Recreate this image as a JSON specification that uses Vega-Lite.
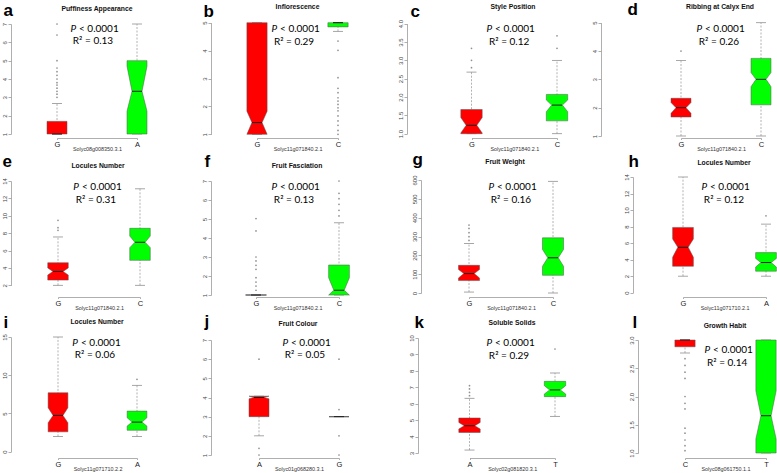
{
"$schema": "https://vega.github.io/schema/vega-lite/v6.json",
"background": "white",
"padding": {"left": 1, "top": 0, "right": 0, "bottom": 0},
"autosize": {"type": "pad"},
"columns": 4,
"align": "none",
"bounds": "flush",
"spacing": {"row": 37, "column": 0},
"config": {
  "view": {"stroke": null},
  "font": "Liberation Sans",
  "axis": {"grid": false, "domainColor": "#9a9a9a", "tickColor": "#9a9a9a", "domainWidth": 0.8, "tickWidth": 0.8, "labelFont": "Liberation Sans", "labelFlush": false, "labelOverlap": false, "labelBound": false},
  "axisY": {"labelAngle": 270, "labelAlign": "center", "labelBaseline": "bottom", "labelFontSize": 6, "labelColor": "#444", "tickSize": 3, "labelPadding": 1, "titleAngle": 0, "titleAlign": "left", "titleBaseline": "alphabetic", "titleFontSize": 17, "titleFontWeight": "bold", "titleColor": "#000", "titleFont": "Liberation Sans"},
  "axisX": {"labelAngle": 0, "tickSize": 1.5, "labelPadding": 0.5, "labelFontSize": 7.5, "labelBaseline": "top", "labelColor": "#222", "titleFontSize": 5.4, "titleFontWeight": "normal", "titleY": 10, "titleBaseline": "middle", "titleColor": "#333"},
  "title": {"fontSize": 6.8, "fontWeight": "bold", "font": "Liberation Sans", "anchor": "middle", "frame": "group", "color": "#111", "offset": 0}
},
"datasets": {
  "boxes": [
    {"p":"a","i":1,"q1":1,"nlo":1,"med":1,"nhi":1.05,"q3":1.69,"wlo":1,"whi":2.66},
    {"p":"a","i":2,"q1":1,"nlo":2.24,"med":3.33,"nhi":4.7,"q3":5,"wlo":1,"whi":7},
    {"p":"b","i":1,"q1":1,"nlo":1,"med":1.42,"nhi":1.83,"q3":5,"wlo":1,"whi":5},
    {"p":"b","i":2,"q1":4.85,"nlo":4.85,"med":5,"nhi":5,"q3":5,"wlo":4.69,"whi":5},
    {"p":"c","i":1,"q1":1,"nlo":1.02,"med":1.23,"nhi":1.44,"q3":1.66,"wlo":1,"whi":2.68},
    {"p":"c","i":2,"q1":1.35,"nlo":1.6,"med":1.78,"nhi":1.92,"q3":2.07,"wlo":1,"whi":3},
    {"p":"d","i":1,"q1":1.67,"nlo":1.8,"med":2,"nhi":2.18,"q3":2.33,"wlo":1,"whi":3.67},
    {"p":"d","i":2,"q1":2.1,"nlo":2.74,"med":3,"nhi":3.24,"q3":3.74,"wlo":1,"whi":5},
    {"p":"e","i":1,"q1":2.6,"nlo":3.18,"med":3.6,"nhi":4,"q3":4.6,"wlo":2,"whi":7.56},
    {"p":"e","i":2,"q1":4.87,"nlo":6.33,"med":6.95,"nhi":7.67,"q3":8.56,"wlo":2,"whi":13.1},
    {"p":"f","i":1,"q1":1,"nlo":1,"med":1,"nhi":1,"q3":1,"wlo":1,"whi":1},
    {"p":"f","i":2,"q1":1,"nlo":1,"med":1.25,"nhi":1.91,"q3":2.58,"wlo":1,"whi":4.8},
    {"p":"g","i":1,"q1":66,"nlo":80,"med":103,"nhi":125,"q3":147,"wlo":5,"whi":263},
    {"p":"g","i":2,"q1":94,"nlo":142,"med":187,"nhi":231,"q3":293,"wlo":0,"whi":593},
    {"p":"h","i":1,"q1":3.2,"nlo":4.3,"med":5.5,"nhi":6.5,"q3":7.9,"wlo":2,"whi":14},
    {"p":"h","i":2,"q1":2.6,"nlo":3.1,"med":3.65,"nhi":4.15,"q3":4.85,"wlo":2,"whi":8.3},
    {"p":"i","i":1,"q1":2.6,"nlo":3.78,"med":4.75,"nhi":5.75,"q3":7.71,"wlo":2,"whi":15},
    {"p":"i","i":2,"q1":2.8,"nlo":3.35,"med":3.87,"nhi":4.44,"q3":5.31,"wlo":2,"whi":8.68},
    {"p":"j","i":1,"q1":3,"nlo":3.93,"med":4,"nhi":4.07,"q3":4.07,"wlo":2,"whi":4.07},
    {"p":"j","i":2,"q1":3,"nlo":3,"med":3,"nhi":3,"q3":3,"wlo":3,"whi":3},
    {"p":"k","i":1,"q1":4.25,"nlo":4.46,"med":4.66,"nhi":4.86,"q3":5.13,"wlo":3.18,"whi":6.33},
    {"p":"k","i":2,"q1":6.43,"nlo":6.59,"med":6.84,"nhi":7.1,"q3":7.36,"wlo":5.23,"whi":7.87},
    {"p":"l","i":1,"q1":2.88,"nlo":2.88,"med":3,"nhi":3,"q3":3,"wlo":2.77,"whi":3},
    {"p":"l","i":2,"q1":1,"nlo":1.25,"med":1.66,"nhi":2.1,"q3":3,"wlo":1,"whi":3}
  ],
  "outliers": [
    {"p":"a","i":1,"v":3.0},{"p":"a","i":1,"v":3.17},{"p":"a","i":1,"v":3.33},{"p":"a","i":1,"v":3.5},{"p":"a","i":1,"v":3.67},{"p":"a","i":1,"v":3.8},{"p":"a","i":1,"v":4.0},{"p":"a","i":1,"v":4.2},{"p":"a","i":1,"v":4.4},{"p":"a","i":1,"v":4.6},{"p":"a","i":1,"v":5.0},{"p":"a","i":1,"v":6.4},{"p":"a","i":1,"v":7.0},
    {"p":"b","i":2,"v":4.34},{"p":"b","i":2,"v":4.01},{"p":"b","i":2,"v":3.03},{"p":"b","i":2,"v":2.65},{"p":"b","i":2,"v":2.49},{"p":"b","i":2,"v":2.31},{"p":"b","i":2,"v":2.19},{"p":"b","i":2,"v":2.07},{"p":"b","i":2,"v":1.95},{"p":"b","i":2,"v":1.84},{"p":"b","i":2,"v":1.66},{"p":"b","i":2,"v":1.48},{"p":"b","i":2,"v":1.32},{"p":"b","i":2,"v":1.14},{"p":"b","i":2,"v":1.0},
    {"p":"c","i":1,"v":2.8},{"p":"c","i":1,"v":3.0},{"p":"c","i":1,"v":3.33},{"p":"c","i":2,"v":3.33},{"p":"c","i":2,"v":3.67},
    {"p":"d","i":1,"v":4.0},
    {"p":"e","i":1,"v":8.33},{"p":"e","i":1,"v":8.63},{"p":"e","i":1,"v":9.47},
    {"p":"f","i":1,"v":1.25},{"p":"f","i":1,"v":1.47},{"p":"f","i":1,"v":1.68},{"p":"f","i":1,"v":1.91},{"p":"f","i":1,"v":2.35},{"p":"f","i":1,"v":2.56},{"p":"f","i":1,"v":2.79},{"p":"f","i":1,"v":3.0},{"p":"f","i":1,"v":4.37},{"p":"f","i":1,"v":5.02},
    {"p":"f","i":2,"v":5.16},{"p":"f","i":2,"v":5.46},{"p":"f","i":2,"v":5.77},{"p":"f","i":2,"v":6.07},{"p":"f","i":2,"v":6.35},{"p":"f","i":2,"v":7.0},
    {"p":"g","i":1,"v":279},{"p":"g","i":1,"v":299},{"p":"g","i":1,"v":320},{"p":"g","i":1,"v":343},{"p":"g","i":1,"v":361},
    {"p":"h","i":2,"v":9.3},
    {"p":"i","i":2,"v":9.46},
    {"p":"j","i":1,"v":6.0},{"p":"j","i":1,"v":1.35},{"p":"j","i":1,"v":1.0},{"p":"j","i":2,"v":6.0},{"p":"j","i":2,"v":3.37},{"p":"j","i":2,"v":2.0},{"p":"j","i":2,"v":1.0},
    {"p":"k","i":1,"v":6.49},{"p":"k","i":1,"v":6.69},{"p":"k","i":1,"v":6.9},{"p":"k","i":1,"v":7.1},{"p":"k","i":2,"v":9.33},
    {"p":"l","i":1,"v":2.67},{"p":"l","i":1,"v":2.55},{"p":"l","i":1,"v":2.43},{"p":"l","i":1,"v":2.32},{"p":"l","i":1,"v":2.0},{"p":"l","i":1,"v":1.88},{"p":"l","i":1,"v":1.78},{"p":"l","i":1,"v":1.44},{"p":"l","i":1,"v":1.35},{"p":"l","i":1,"v":1.23},{"p":"l","i":1,"v":1.13},{"p":"l","i":1,"v":1.04}
  ],
  "stats": [
    {"p":"a","pv":"< 0.0001","r2":"R² = 0.13"},
    {"p":"b","pv":"< 0.0001","r2":"R² = 0.29"},
    {"p":"c","pv":"< 0.0001","r2":"R² = 0.12"},
    {"p":"d","pv":"< 0.0001","r2":"R² = 0.26"},
    {"p":"e","pv":"< 0.0001","r2":"R² = 0.31"},
    {"p":"f","pv":"< 0.0001","r2":"R² = 0.13"},
    {"p":"g","pv":"< 0.0001","r2":"R² = 0.16"},
    {"p":"h","pv":"< 0.0001","r2":"R² = 0.12"},
    {"p":"i","pv":"< 0.0001","r2":"R² = 0.06"},
    {"p":"j","pv":"< 0.0001","r2":"R² = 0.05"},
    {"p":"k","pv":"< 0.0001","r2":"R² = 0.29"},
    {"p":"l","pv":"< 0.0001","r2":"R² = 0.14"}
  ]
},
"concat": [
{
 "width": 200, "height": 119,
 "title": {"text": "Puffiness Appearance", "dx": -14, "dy": 16.2},
 "layer": [
  {"data": {"name": "boxes"}, "transform": [{"filter": "datum.p == 'a'"}], "mark": {"type": "rule", "color": "#a0a0a0", "strokeDash": [2, 1.5], "strokeWidth": 0.8}, "encoding": {"x": {"field": "i", "type": "quantitative"}, "y": {"field": "wlo", "type": "quantitative"}, "y2": {"field": "whi"}}},
  {"data": {"name": "boxes"}, "transform": [{"filter": "datum.p == 'a'"}, {"fold": ["wlo", "whi"], "as": ["k", "v"]}], "mark": {"type": "tick", "orient": "horizontal", "size": 10, "thickness": 0.8, "color": "#909090", "opacity": 1}, "encoding": {"x": {"field": "i", "type": "quantitative"}, "y": {"field": "v", "type": "quantitative"}}},
  {"data": {"name": "outliers"}, "transform": [{"filter": "datum.p == 'a'"}], "mark": {"type": "circle", "size": 3, "color": "#909090", "opacity": 1}, "encoding": {"x": {"field": "i", "type": "quantitative"}, "y": {"field": "v", "type": "quantitative"}}},
  {"data": {"name": "boxes"}, "transform": [{"filter": "datum.p == 'a'"}, {"fold": ["q1", "nlo", "med", "nhi", "q3"], "as": ["k", "v"]}, {"calculate": "datum.i - (datum.k == 'med' ? 0.0625 : 0.125)", "as": "xl"}, {"calculate": "datum.i + (datum.k == 'med' ? 0.0625 : 0.125)", "as": "xr"}], "mark": {"type": "area", "orient": "horizontal", "stroke": "#555555", "strokeWidth": 0.5, "opacity": 1},
   "encoding": {
    "y": {"field": "v", "type": "quantitative", "scale": {"domain": [1, 7], "range": [115, 5], "nice": false, "zero": false}, "axis": {"values": [1, 2, 3, 4, 5, 6, 7], "tickCount": 50, "format": "d", "labelOverlap": false, "title": "a", "titleX": -8, "titleY": -4}},
    "x": {"field": "xl", "type": "quantitative", "stack": null, "scale": {"domain": [1, 2], "range": [46, 126], "nice": false, "zero": false}, "axis": {"values": [1, 2], "tickCount": 10, "labelOverlap": false, "labelExpr": "datum.value == 1 ? 'G' : 'A'", "title": "Solyc08g008350.3.1"}},
    "x2": {"field": "xr"},
    "fill": {"field": "i", "type": "nominal", "scale": {"domain": [1, 2], "range": ["#ff0000", "#00ff00"]}, "legend": null}}},
  {"data": {"name": "boxes"}, "transform": [{"filter": "datum.p == 'a'"}], "mark": {"type": "tick", "orient": "horizontal", "size": 10, "thickness": 1, "color": "#1a1a1a", "opacity": 1}, "encoding": {"x": {"field": "i", "type": "quantitative"}, "y": {"field": "med", "type": "quantitative"}}},
  {"data": {"name": "stats"}, "transform": [{"filter": "datum.p == 'a'"}], "mark": {"type": "text", "font": "Lato", "fontSize": 10, "fontStyle": "italic", "align": "right", "baseline": "middle", "dx": -17}, "encoding": {"x": {"datum": 1.45}, "y": {"datum": 6.74}, "text": {"value": "P"}}},
  {"data": {"name": "stats"}, "transform": [{"filter": "datum.p == 'a'"}], "mark": {"type": "text", "font": "Lato", "fontSize": 10, "align": "left", "baseline": "middle", "dx": -14}, "encoding": {"x": {"datum": 1.45}, "y": {"datum": 6.74}, "text": {"field": "pv"}}},
  {"data": {"name": "stats"}, "transform": [{"filter": "datum.p == 'a'"}], "mark": {"type": "text", "font": "Lato", "fontSize": 10, "align": "center", "baseline": "middle"}, "encoding": {"x": {"datum": 1.45}, "y": {"datum": 6.07}, "text": {"field": "r2"}}}
 ]
},
{
 "width": 196, "height": 119,
 "title": {"text": "Inflorescence", "dx": -11.5, "dy": 13.2},
 "layer": [
  {"data": {"name": "boxes"}, "transform": [{"filter": "datum.p == 'b'"}], "mark": {"type": "rule", "color": "#a0a0a0", "strokeDash": [2, 1.5], "strokeWidth": 0.8}, "encoding": {"x": {"field": "i", "type": "quantitative"}, "y": {"field": "wlo", "type": "quantitative"}, "y2": {"field": "whi"}}},
  {"data": {"name": "boxes"}, "transform": [{"filter": "datum.p == 'b'"}, {"fold": ["wlo", "whi"], "as": ["k", "v"]}], "mark": {"type": "tick", "orient": "horizontal", "size": 10, "thickness": 0.8, "color": "#909090", "opacity": 1}, "encoding": {"x": {"field": "i", "type": "quantitative"}, "y": {"field": "v", "type": "quantitative"}}},
  {"data": {"name": "outliers"}, "transform": [{"filter": "datum.p == 'b'"}], "mark": {"type": "circle", "size": 3, "color": "#909090", "opacity": 1}, "encoding": {"x": {"field": "i", "type": "quantitative"}, "y": {"field": "v", "type": "quantitative"}}},
  {"data": {"name": "boxes"}, "transform": [{"filter": "datum.p == 'b'"}, {"fold": ["q1", "nlo", "med", "nhi", "q3"], "as": ["k", "v"]}, {"calculate": "datum.i - (datum.k == 'med' ? 0.0625 : 0.125)", "as": "xl"}, {"calculate": "datum.i + (datum.k == 'med' ? 0.0625 : 0.125)", "as": "xr"}], "mark": {"type": "area", "orient": "horizontal", "stroke": "#555555", "strokeWidth": 0.5, "opacity": 1},
   "encoding": {
    "y": {"field": "v", "type": "quantitative", "scale": {"domain": [1, 5], "range": [115.3, 3.7], "nice": false, "zero": false}, "axis": {"values": [1, 2, 3, 4, 5], "tickCount": 50, "format": "d", "labelOverlap": false, "title": "b", "titleX": -8, "titleY": -3}},
    "x": {"field": "xl", "type": "quantitative", "stack": null, "scale": {"domain": [1, 2], "range": [46, 127], "nice": false, "zero": false}, "axis": {"values": [1, 2], "tickCount": 10, "labelOverlap": false, "labelExpr": "datum.value == 1 ? 'G' : 'C'", "title": "Solyc11g071840.2.1"}},
    "x2": {"field": "xr"},
    "fill": {"field": "i", "type": "nominal", "scale": {"domain": [1, 2], "range": ["#ff0000", "#00ff00"]}, "legend": null}}},
  {"data": {"name": "boxes"}, "transform": [{"filter": "datum.p == 'b'"}], "mark": {"type": "tick", "orient": "horizontal", "size": 10, "thickness": 1, "color": "#1a1a1a", "opacity": 1}, "encoding": {"x": {"field": "i", "type": "quantitative"}, "y": {"field": "med", "type": "quantitative"}}},
  {"data": {"name": "stats"}, "transform": [{"filter": "datum.p == 'b'"}], "mark": {"type": "text", "font": "Lato", "fontSize": 10, "fontStyle": "italic", "align": "right", "baseline": "middle", "dx": -17}, "encoding": {"x": {"datum": 1.457}, "y": {"datum": 4.76}, "text": {"value": "P"}}},
  {"data": {"name": "stats"}, "transform": [{"filter": "datum.p == 'b'"}], "mark": {"type": "text", "font": "Lato", "fontSize": 10, "align": "left", "baseline": "middle", "dx": -14}, "encoding": {"x": {"datum": 1.457}, "y": {"datum": 4.76}, "text": {"field": "pv"}}},
  {"data": {"name": "stats"}, "transform": [{"filter": "datum.p == 'b'"}], "mark": {"type": "text", "font": "Lato", "fontSize": 10, "align": "center", "baseline": "middle"}, "encoding": {"x": {"datum": 1.457}, "y": {"datum": 4.32}, "text": {"field": "r2"}}}
 ]
},
{
 "width": 194, "height": 119,
 "title": {"text": "Style Position", "dx": 9, "dy": 13.2},
 "layer": [
  {"data": {"name": "boxes"}, "transform": [{"filter": "datum.p == 'c'"}], "mark": {"type": "rule", "color": "#a0a0a0", "strokeDash": [2, 1.5], "strokeWidth": 0.8}, "encoding": {"x": {"field": "i", "type": "quantitative"}, "y": {"field": "wlo", "type": "quantitative"}, "y2": {"field": "whi"}}},
  {"data": {"name": "boxes"}, "transform": [{"filter": "datum.p == 'c'"}, {"fold": ["wlo", "whi"], "as": ["k", "v"]}], "mark": {"type": "tick", "orient": "horizontal", "size": 10, "thickness": 0.8, "color": "#909090", "opacity": 1}, "encoding": {"x": {"field": "i", "type": "quantitative"}, "y": {"field": "v", "type": "quantitative"}}},
  {"data": {"name": "outliers"}, "transform": [{"filter": "datum.p == 'c'"}], "mark": {"type": "circle", "size": 3, "color": "#909090", "opacity": 1}, "encoding": {"x": {"field": "i", "type": "quantitative"}, "y": {"field": "v", "type": "quantitative"}}},
  {"data": {"name": "boxes"}, "transform": [{"filter": "datum.p == 'c'"}, {"fold": ["q1", "nlo", "med", "nhi", "q3"], "as": ["k", "v"]}, {"calculate": "datum.i - (datum.k == 'med' ? 0.0625 : 0.125)", "as": "xl"}, {"calculate": "datum.i + (datum.k == 'med' ? 0.0625 : 0.125)", "as": "xr"}], "mark": {"type": "area", "orient": "horizontal", "stroke": "#555555", "strokeWidth": 0.5, "opacity": 1},
   "encoding": {
    "y": {"field": "v", "type": "quantitative", "scale": {"domain": [1, 4], "range": [114.7, 4.7], "nice": false, "zero": false}, "axis": {"values": [1, 1.5, 2, 2.5, 3, 3.5, 4], "tickCount": 50, "format": ".1f", "labelOverlap": false, "title": "c", "titleX": 3, "titleY": -3}},
    "x": {"field": "xl", "type": "quantitative", "stack": null, "scale": {"domain": [1, 2], "range": [64.5, 150], "nice": false, "zero": false}, "axis": {"values": [1, 2], "tickCount": 10, "labelOverlap": false, "labelExpr": "datum.value == 1 ? 'G' : 'C'", "title": "Solyc11g071840.2.1"}},
    "x2": {"field": "xr"},
    "fill": {"field": "i", "type": "nominal", "scale": {"domain": [1, 2], "range": ["#ff0000", "#00ff00"]}, "legend": null}}},
  {"data": {"name": "boxes"}, "transform": [{"filter": "datum.p == 'c'"}], "mark": {"type": "tick", "orient": "horizontal", "size": 10, "thickness": 1, "color": "#1a1a1a", "opacity": 1}, "encoding": {"x": {"field": "i", "type": "quantitative"}, "y": {"field": "med", "type": "quantitative"}}},
  {"data": {"name": "stats"}, "transform": [{"filter": "datum.p == 'c'"}], "mark": {"type": "text", "font": "Lato", "fontSize": 10, "fontStyle": "italic", "align": "right", "baseline": "middle", "dx": -17}, "encoding": {"x": {"datum": 1.44}, "y": {"datum": 3.85}, "text": {"value": "P"}}},
  {"data": {"name": "stats"}, "transform": [{"filter": "datum.p == 'c'"}], "mark": {"type": "text", "font": "Lato", "fontSize": 10, "align": "left", "baseline": "middle", "dx": -14}, "encoding": {"x": {"datum": 1.44}, "y": {"datum": 3.85}, "text": {"field": "pv"}}},
  {"data": {"name": "stats"}, "transform": [{"filter": "datum.p == 'c'"}], "mark": {"type": "text", "font": "Lato", "fontSize": 10, "align": "center", "baseline": "middle"}, "encoding": {"x": {"datum": 1.44}, "y": {"datum": 3.51}, "text": {"field": "r2"}}}
 ]
},
{
 "width": 176, "height": 119,
 "title": {"text": "Ribbing at Calyx End", "dx": 31, "dy": 14.9},
 "layer": [
  {"data": {"name": "boxes"}, "transform": [{"filter": "datum.p == 'd'"}], "mark": {"type": "rule", "color": "#a0a0a0", "strokeDash": [2, 1.5], "strokeWidth": 0.8}, "encoding": {"x": {"field": "i", "type": "quantitative"}, "y": {"field": "wlo", "type": "quantitative"}, "y2": {"field": "whi"}}},
  {"data": {"name": "boxes"}, "transform": [{"filter": "datum.p == 'd'"}, {"fold": ["wlo", "whi"], "as": ["k", "v"]}], "mark": {"type": "tick", "orient": "horizontal", "size": 10, "thickness": 0.8, "color": "#909090", "opacity": 1}, "encoding": {"x": {"field": "i", "type": "quantitative"}, "y": {"field": "v", "type": "quantitative"}}},
  {"data": {"name": "outliers"}, "transform": [{"filter": "datum.p == 'd'"}], "mark": {"type": "circle", "size": 3, "color": "#909090", "opacity": 1}, "encoding": {"x": {"field": "i", "type": "quantitative"}, "y": {"field": "v", "type": "quantitative"}}},
  {"data": {"name": "boxes"}, "transform": [{"filter": "datum.p == 'd'"}, {"fold": ["q1", "nlo", "med", "nhi", "q3"], "as": ["k", "v"]}, {"calculate": "datum.i - (datum.k == 'med' ? 0.0625 : 0.125)", "as": "xl"}, {"calculate": "datum.i + (datum.k == 'med' ? 0.0625 : 0.125)", "as": "xr"}], "mark": {"type": "area", "orient": "horizontal", "stroke": "#555555", "strokeWidth": 0.5, "opacity": 1},
   "encoding": {
    "y": {"field": "v", "type": "quantitative", "scale": {"domain": [1, 5], "range": [117, 3.7], "nice": false, "zero": false}, "axis": {"values": [1, 2, 3, 4, 5], "tickCount": 50, "format": "d", "labelOverlap": false, "title": "d", "titleX": 26, "titleY": -4.7}},
    "x": {"field": "xl", "type": "quantitative", "stack": null, "scale": {"domain": [1, 2], "range": [80, 160], "nice": false, "zero": false}, "axis": {"values": [1, 2], "tickCount": 10, "labelOverlap": false, "labelExpr": "datum.value == 1 ? 'G' : 'C'", "title": "Solyc11g071840.2.1"}},
    "x2": {"field": "xr"},
    "fill": {"field": "i", "type": "nominal", "scale": {"domain": [1, 2], "range": ["#ff0000", "#00ff00"]}, "legend": null}}},
  {"data": {"name": "boxes"}, "transform": [{"filter": "datum.p == 'd'"}], "mark": {"type": "tick", "orient": "horizontal", "size": 10, "thickness": 1, "color": "#1a1a1a", "opacity": 1}, "encoding": {"x": {"field": "i", "type": "quantitative"}, "y": {"field": "med", "type": "quantitative"}}},
  {"data": {"name": "stats"}, "transform": [{"filter": "datum.p == 'd'"}], "mark": {"type": "text", "font": "Lato", "fontSize": 10, "fontStyle": "italic", "align": "right", "baseline": "middle", "dx": -17}, "encoding": {"x": {"datum": 1.475}, "y": {"datum": 4.77}, "text": {"value": "P"}}},
  {"data": {"name": "stats"}, "transform": [{"filter": "datum.p == 'd'"}], "mark": {"type": "text", "font": "Lato", "fontSize": 10, "align": "left", "baseline": "middle", "dx": -14}, "encoding": {"x": {"datum": 1.475}, "y": {"datum": 4.77}, "text": {"field": "pv"}}},
  {"data": {"name": "stats"}, "transform": [{"filter": "datum.p == 'd'"}], "mark": {"type": "text", "font": "Lato", "fontSize": 10, "align": "center", "baseline": "middle"}, "encoding": {"x": {"datum": 1.475}, "y": {"datum": 4.33}, "text": {"field": "r2"}}}
 ]
},
{
 "width": 200, "height": 122,
 "title": {"text": "Locules Number", "dx": -13, "dy": 21.5},
 "layer": [
  {"data": {"name": "boxes"}, "transform": [{"filter": "datum.p == 'e'"}], "mark": {"type": "rule", "color": "#a0a0a0", "strokeDash": [2, 1.5], "strokeWidth": 0.8}, "encoding": {"x": {"field": "i", "type": "quantitative"}, "y": {"field": "wlo", "type": "quantitative"}, "y2": {"field": "whi"}}},
  {"data": {"name": "boxes"}, "transform": [{"filter": "datum.p == 'e'"}, {"fold": ["wlo", "whi"], "as": ["k", "v"]}], "mark": {"type": "tick", "orient": "horizontal", "size": 10, "thickness": 0.8, "color": "#909090", "opacity": 1}, "encoding": {"x": {"field": "i", "type": "quantitative"}, "y": {"field": "v", "type": "quantitative"}}},
  {"data": {"name": "outliers"}, "transform": [{"filter": "datum.p == 'e'"}], "mark": {"type": "circle", "size": 3, "color": "#909090", "opacity": 1}, "encoding": {"x": {"field": "i", "type": "quantitative"}, "y": {"field": "v", "type": "quantitative"}}},
  {"data": {"name": "boxes"}, "transform": [{"filter": "datum.p == 'e'"}, {"fold": ["q1", "nlo", "med", "nhi", "q3"], "as": ["k", "v"]}, {"calculate": "datum.i - (datum.k == 'med' ? 0.0625 : 0.125)", "as": "xl"}, {"calculate": "datum.i + (datum.k == 'med' ? 0.0625 : 0.125)", "as": "xr"}], "mark": {"type": "area", "orient": "horizontal", "stroke": "#555555", "strokeWidth": 0.5, "opacity": 1},
   "encoding": {
    "y": {"field": "v", "type": "quantitative", "scale": {"domain": [2, 14], "range": [110.3, 6], "nice": false, "zero": false}, "axis": {"values": [2, 4, 6, 8, 10, 12, 14], "tickCount": 50, "format": "d", "labelOverlap": false, "title": "e", "titleX": -9, "titleY": -9}},
    "x": {"field": "xl", "type": "quantitative", "stack": null, "scale": {"domain": [1, 2], "range": [47, 129], "nice": false, "zero": false}, "axis": {"values": [1, 2], "tickCount": 10, "labelOverlap": false, "labelExpr": "datum.value == 1 ? 'G' : 'C'", "title": "Solyc11g071840.2.1"}},
    "x2": {"field": "xr"},
    "fill": {"field": "i", "type": "nominal", "scale": {"domain": [1, 2], "range": ["#ff0000", "#00ff00"]}, "legend": null}}},
  {"data": {"name": "boxes"}, "transform": [{"filter": "datum.p == 'e'"}], "mark": {"type": "tick", "orient": "horizontal", "size": 10, "thickness": 1, "color": "#1a1a1a", "opacity": 1}, "encoding": {"x": {"field": "i", "type": "quantitative"}, "y": {"field": "med", "type": "quantitative"}}},
  {"data": {"name": "stats"}, "transform": [{"filter": "datum.p == 'e'"}], "mark": {"type": "text", "font": "Lato", "fontSize": 10, "fontStyle": "italic", "align": "right", "baseline": "middle", "dx": -17}, "encoding": {"x": {"datum": 1.463}, "y": {"datum": 13.31}, "text": {"value": "P"}}},
  {"data": {"name": "stats"}, "transform": [{"filter": "datum.p == 'e'"}], "mark": {"type": "text", "font": "Lato", "fontSize": 10, "align": "left", "baseline": "middle", "dx": -14}, "encoding": {"x": {"datum": 1.463}, "y": {"datum": 13.31}, "text": {"field": "pv"}}},
  {"data": {"name": "stats"}, "transform": [{"filter": "datum.p == 'e'"}], "mark": {"type": "text", "font": "Lato", "fontSize": 10, "align": "center", "baseline": "middle"}, "encoding": {"x": {"datum": 1.463}, "y": {"datum": 11.81}, "text": {"field": "r2"}}}
 ]
},
{
 "width": 196, "height": 122,
 "title": {"text": "Fruit Fasciation", "dx": -12, "dy": 21.5},
 "layer": [
  {"data": {"name": "boxes"}, "transform": [{"filter": "datum.p == 'f'"}], "mark": {"type": "rule", "color": "#a0a0a0", "strokeDash": [2, 1.5], "strokeWidth": 0.8}, "encoding": {"x": {"field": "i", "type": "quantitative"}, "y": {"field": "wlo", "type": "quantitative"}, "y2": {"field": "whi"}}},
  {"data": {"name": "boxes"}, "transform": [{"filter": "datum.p == 'f'"}, {"fold": ["wlo", "whi"], "as": ["k", "v"]}], "mark": {"type": "tick", "orient": "horizontal", "size": 10, "thickness": 0.8, "color": "#909090", "opacity": 1}, "encoding": {"x": {"field": "i", "type": "quantitative"}, "y": {"field": "v", "type": "quantitative"}}},
  {"data": {"name": "outliers"}, "transform": [{"filter": "datum.p == 'f'"}], "mark": {"type": "circle", "size": 3, "color": "#909090", "opacity": 1}, "encoding": {"x": {"field": "i", "type": "quantitative"}, "y": {"field": "v", "type": "quantitative"}}},
  {"data": {"name": "boxes"}, "transform": [{"filter": "datum.p == 'f'"}, {"fold": ["q1", "nlo", "med", "nhi", "q3"], "as": ["k", "v"]}, {"calculate": "datum.i - (datum.k == 'med' ? 0.0625 : 0.125)", "as": "xl"}, {"calculate": "datum.i + (datum.k == 'med' ? 0.0625 : 0.125)", "as": "xr"}], "mark": {"type": "area", "orient": "horizontal", "stroke": "#555555", "strokeWidth": 0.5, "opacity": 1},
   "encoding": {
    "y": {"field": "v", "type": "quantitative", "scale": {"domain": [1, 7], "range": [120, 6], "nice": false, "zero": false}, "axis": {"values": [1, 2, 3, 4, 5, 6, 7], "tickCount": 50, "format": "d", "labelOverlap": false, "title": "f", "titleX": -7, "titleY": -9}},
    "x": {"field": "xl", "type": "quantitative", "stack": null, "scale": {"domain": [1, 2], "range": [45, 128], "nice": false, "zero": false}, "axis": {"values": [1, 2], "tickCount": 10, "labelOverlap": false, "labelExpr": "datum.value == 1 ? 'G' : 'C'", "title": "Solyc11g071840.2.1"}},
    "x2": {"field": "xr"},
    "fill": {"field": "i", "type": "nominal", "scale": {"domain": [1, 2], "range": ["#ff0000", "#00ff00"]}, "legend": null}}},
  {"data": {"name": "boxes"}, "transform": [{"filter": "datum.p == 'f'"}], "mark": {"type": "tick", "orient": "horizontal", "size": 10, "thickness": 1, "color": "#1a1a1a", "opacity": 1}, "encoding": {"x": {"field": "i", "type": "quantitative"}, "y": {"field": "med", "type": "quantitative"}}},
  {"data": {"name": "stats"}, "transform": [{"filter": "datum.p == 'f'"}], "mark": {"type": "text", "font": "Lato", "fontSize": 10, "fontStyle": "italic", "align": "right", "baseline": "middle", "dx": -17}, "encoding": {"x": {"datum": 1.458}, "y": {"datum": 6.68}, "text": {"value": "P"}}},
  {"data": {"name": "stats"}, "transform": [{"filter": "datum.p == 'f'"}], "mark": {"type": "text", "font": "Lato", "fontSize": 10, "align": "left", "baseline": "middle", "dx": -14}, "encoding": {"x": {"datum": 1.458}, "y": {"datum": 6.68}, "text": {"field": "pv"}}},
  {"data": {"name": "stats"}, "transform": [{"filter": "datum.p == 'f'"}], "mark": {"type": "text", "font": "Lato", "fontSize": 10, "align": "center", "baseline": "middle"}, "encoding": {"x": {"datum": 1.458}, "y": {"datum": 6.0}, "text": {"field": "r2"}}}
 ]
},
{
 "width": 194, "height": 122,
 "title": {"text": "Fruit Weight", "dx": 1, "dy": 20.2},
 "layer": [
  {"data": {"name": "boxes"}, "transform": [{"filter": "datum.p == 'g'"}], "mark": {"type": "rule", "color": "#a0a0a0", "strokeDash": [2, 1.5], "strokeWidth": 0.8}, "encoding": {"x": {"field": "i", "type": "quantitative"}, "y": {"field": "wlo", "type": "quantitative"}, "y2": {"field": "whi"}}},
  {"data": {"name": "boxes"}, "transform": [{"filter": "datum.p == 'g'"}, {"fold": ["wlo", "whi"], "as": ["k", "v"]}], "mark": {"type": "tick", "orient": "horizontal", "size": 10, "thickness": 0.8, "color": "#909090", "opacity": 1}, "encoding": {"x": {"field": "i", "type": "quantitative"}, "y": {"field": "v", "type": "quantitative"}}},
  {"data": {"name": "outliers"}, "transform": [{"filter": "datum.p == 'g'"}], "mark": {"type": "circle", "size": 3, "color": "#909090", "opacity": 1}, "encoding": {"x": {"field": "i", "type": "quantitative"}, "y": {"field": "v", "type": "quantitative"}}},
  {"data": {"name": "boxes"}, "transform": [{"filter": "datum.p == 'g'"}, {"fold": ["q1", "nlo", "med", "nhi", "q3"], "as": ["k", "v"]}, {"calculate": "datum.i - (datum.k == 'med' ? 0.0625 : 0.125)", "as": "xl"}, {"calculate": "datum.i + (datum.k == 'med' ? 0.0625 : 0.125)", "as": "xr"}], "mark": {"type": "area", "orient": "horizontal", "stroke": "#555555", "strokeWidth": 0.5, "opacity": 1},
   "encoding": {
    "y": {"field": "v", "type": "quantitative", "scale": {"domain": [0, 600], "range": [118, 5], "nice": false, "zero": false}, "axis": {"values": [0, 100, 200, 300, 400, 500, 600], "tickCount": 50, "format": "d", "labelOverlap": false, "offset": -14, "title": "g", "titleX": -9, "titleY": -11}},
    "x": {"field": "xl", "type": "quantitative", "stack": null, "scale": {"domain": [1, 2], "range": [62, 146], "nice": false, "zero": false}, "axis": {"values": [1, 2], "tickCount": 10, "labelOverlap": false, "labelExpr": "datum.value == 1 ? 'G' : 'C'", "title": "Solyc11g071840.2.1"}},
    "x2": {"field": "xr"},
    "fill": {"field": "i", "type": "nominal", "scale": {"domain": [1, 2], "range": ["#ff0000", "#00ff00"]}, "legend": null}}},
  {"data": {"name": "boxes"}, "transform": [{"filter": "datum.p == 'g'"}], "mark": {"type": "tick", "orient": "horizontal", "size": 10, "thickness": 1, "color": "#1a1a1a", "opacity": 1}, "encoding": {"x": {"field": "i", "type": "quantitative"}, "y": {"field": "med", "type": "quantitative"}}},
  {"data": {"name": "stats"}, "transform": [{"filter": "datum.p == 'g'"}], "mark": {"type": "text", "font": "Lato", "fontSize": 10, "fontStyle": "italic", "align": "right", "baseline": "middle", "dx": -17}, "encoding": {"x": {"datum": 1.5}, "y": {"datum": 564}, "text": {"value": "P"}}},
  {"data": {"name": "stats"}, "transform": [{"filter": "datum.p == 'g'"}], "mark": {"type": "text", "font": "Lato", "fontSize": 10, "align": "left", "baseline": "middle", "dx": -14}, "encoding": {"x": {"datum": 1.5}, "y": {"datum": 564}, "text": {"field": "pv"}}},
  {"data": {"name": "stats"}, "transform": [{"filter": "datum.p == 'g'"}], "mark": {"type": "text", "font": "Lato", "fontSize": 10, "align": "center", "baseline": "middle"}, "encoding": {"x": {"datum": 1.5}, "y": {"datum": 493}, "text": {"field": "r2"}}}
 ]
},
{
 "width": 176, "height": 122,
 "title": {"text": "Locules Number", "dx": 35, "dy": 19.2},
 "layer": [
  {"data": {"name": "boxes"}, "transform": [{"filter": "datum.p == 'h'"}], "mark": {"type": "rule", "color": "#a0a0a0", "strokeDash": [2, 1.5], "strokeWidth": 0.8}, "encoding": {"x": {"field": "i", "type": "quantitative"}, "y": {"field": "wlo", "type": "quantitative"}, "y2": {"field": "whi"}}},
  {"data": {"name": "boxes"}, "transform": [{"filter": "datum.p == 'h'"}, {"fold": ["wlo", "whi"], "as": ["k", "v"]}], "mark": {"type": "tick", "orient": "horizontal", "size": 10, "thickness": 0.8, "color": "#909090", "opacity": 1}, "encoding": {"x": {"field": "i", "type": "quantitative"}, "y": {"field": "v", "type": "quantitative"}}},
  {"data": {"name": "outliers"}, "transform": [{"filter": "datum.p == 'h'"}], "mark": {"type": "circle", "size": 3, "color": "#909090", "opacity": 1}, "encoding": {"x": {"field": "i", "type": "quantitative"}, "y": {"field": "v", "type": "quantitative"}}},
  {"data": {"name": "boxes"}, "transform": [{"filter": "datum.p == 'h'"}, {"fold": ["q1", "nlo", "med", "nhi", "q3"], "as": ["k", "v"]}, {"calculate": "datum.i - (datum.k == 'med' ? 0.0625 : 0.125)", "as": "xl"}, {"calculate": "datum.i + (datum.k == 'med' ? 0.0625 : 0.125)", "as": "xr"}], "mark": {"type": "area", "orient": "horizontal", "stroke": "#555555", "strokeWidth": 0.5, "opacity": 1},
   "encoding": {
    "y": {"field": "v", "type": "quantitative", "scale": {"domain": [0, 14], "range": [117.7, 2], "nice": false, "zero": false}, "axis": {"values": [0, 2, 4, 6, 8, 10, 12, 14], "tickCount": 50, "format": "d", "labelOverlap": false, "offset": -32, "title": "h", "titleX": -5, "titleY": -9}},
    "x": {"field": "xl", "type": "quantitative", "stack": null, "scale": {"domain": [1, 2], "range": [82, 165], "nice": false, "zero": false}, "axis": {"values": [1, 2], "tickCount": 10, "labelOverlap": false, "labelExpr": "datum.value == 1 ? 'G' : 'A'", "title": "Solyc11g071710.2.1"}},
    "x2": {"field": "xr"},
    "fill": {"field": "i", "type": "nominal", "scale": {"domain": [1, 2], "range": ["#ff0000", "#00ff00"]}, "legend": null}}},
  {"data": {"name": "boxes"}, "transform": [{"filter": "datum.p == 'h'"}], "mark": {"type": "tick", "orient": "horizontal", "size": 10, "thickness": 1, "color": "#1a1a1a", "opacity": 1}, "encoding": {"x": {"field": "i", "type": "quantitative"}, "y": {"field": "med", "type": "quantitative"}}},
  {"data": {"name": "stats"}, "transform": [{"filter": "datum.p == 'h'"}], "mark": {"type": "text", "font": "Lato", "fontSize": 10, "fontStyle": "italic", "align": "right", "baseline": "middle", "dx": -17}, "encoding": {"x": {"datum": 1.494}, "y": {"datum": 12.79}, "text": {"value": "P"}}},
  {"data": {"name": "stats"}, "transform": [{"filter": "datum.p == 'h'"}], "mark": {"type": "text", "font": "Lato", "fontSize": 10, "align": "left", "baseline": "middle", "dx": -14}, "encoding": {"x": {"datum": 1.494}, "y": {"datum": 12.79}, "text": {"field": "pv"}}},
  {"data": {"name": "stats"}, "transform": [{"filter": "datum.p == 'h'"}], "mark": {"type": "text", "font": "Lato", "fontSize": 10, "align": "center", "baseline": "middle"}, "encoding": {"x": {"datum": 1.494}, "y": {"datum": 11.22}, "text": {"field": "r2"}}}
 ]
},
{
 "width": 200, "height": 124,
 "title": {"text": "Locules Number", "dx": -14, "dy": 16.5},
 "layer": [
  {"data": {"name": "boxes"}, "transform": [{"filter": "datum.p == 'i'"}], "mark": {"type": "rule", "color": "#a0a0a0", "strokeDash": [2, 1.5], "strokeWidth": 0.8}, "encoding": {"x": {"field": "i", "type": "quantitative"}, "y": {"field": "wlo", "type": "quantitative"}, "y2": {"field": "whi"}}},
  {"data": {"name": "boxes"}, "transform": [{"filter": "datum.p == 'i'"}, {"fold": ["wlo", "whi"], "as": ["k", "v"]}], "mark": {"type": "tick", "orient": "horizontal", "size": 10, "thickness": 0.8, "color": "#909090", "opacity": 1}, "encoding": {"x": {"field": "i", "type": "quantitative"}, "y": {"field": "v", "type": "quantitative"}}},
  {"data": {"name": "outliers"}, "transform": [{"filter": "datum.p == 'i'"}], "mark": {"type": "circle", "size": 3, "color": "#909090", "opacity": 1}, "encoding": {"x": {"field": "i", "type": "quantitative"}, "y": {"field": "v", "type": "quantitative"}}},
  {"data": {"name": "boxes"}, "transform": [{"filter": "datum.p == 'i'"}, {"fold": ["q1", "nlo", "med", "nhi", "q3"], "as": ["k", "v"]}, {"calculate": "datum.i - (datum.k == 'med' ? 0.0625 : 0.125)", "as": "xl"}, {"calculate": "datum.i + (datum.k == 'med' ? 0.0625 : 0.125)", "as": "xr"}], "mark": {"type": "area", "orient": "horizontal", "stroke": "#555555", "strokeWidth": 0.5, "opacity": 1},
   "encoding": {
    "y": {"field": "v", "type": "quantitative", "scale": {"domain": [0, 15], "range": [117.7, 3], "nice": false, "zero": false}, "axis": {"values": [0, 5, 10, 15], "tickCount": 50, "format": "d", "labelOverlap": false, "title": "i", "titleX": -8, "titleY": -7}},
    "x": {"field": "xl", "type": "quantitative", "stack": null, "scale": {"domain": [1, 2], "range": [47, 126], "nice": false, "zero": false}, "axis": {"values": [1, 2], "tickCount": 10, "labelOverlap": false, "labelExpr": "datum.value == 1 ? 'G' : 'A'", "title": "Solyc11g071710.2.2"}},
    "x2": {"field": "xr"},
    "fill": {"field": "i", "type": "nominal", "scale": {"domain": [1, 2], "range": ["#ff0000", "#00ff00"]}, "legend": null}}},
  {"data": {"name": "boxes"}, "transform": [{"filter": "datum.p == 'i'"}], "mark": {"type": "tick", "orient": "horizontal", "size": 10, "thickness": 1, "color": "#1a1a1a", "opacity": 1}, "encoding": {"x": {"field": "i", "type": "quantitative"}, "y": {"field": "med", "type": "quantitative"}}},
  {"data": {"name": "stats"}, "transform": [{"filter": "datum.p == 'i'"}], "mark": {"type": "text", "font": "Lato", "fontSize": 10, "fontStyle": "italic", "align": "right", "baseline": "middle", "dx": -17}, "encoding": {"x": {"datum": 1.468}, "y": {"datum": 14.18}, "text": {"value": "P"}}},
  {"data": {"name": "stats"}, "transform": [{"filter": "datum.p == 'i'"}], "mark": {"type": "text", "font": "Lato", "fontSize": 10, "align": "left", "baseline": "middle", "dx": -14}, "encoding": {"x": {"datum": 1.468}, "y": {"datum": 14.18}, "text": {"field": "pv"}}},
  {"data": {"name": "stats"}, "transform": [{"filter": "datum.p == 'i'"}], "mark": {"type": "text", "font": "Lato", "fontSize": 10, "align": "center", "baseline": "middle"}, "encoding": {"x": {"datum": 1.468}, "y": {"datum": 12.6}, "text": {"field": "r2"}}}
 ]
},
{
 "width": 196, "height": 124,
 "title": {"text": "Fruit Colour", "dx": -11, "dy": 19.8},
 "layer": [
  {"data": {"name": "boxes"}, "transform": [{"filter": "datum.p == 'j'"}], "mark": {"type": "rule", "color": "#a0a0a0", "strokeDash": [2, 1.5], "strokeWidth": 0.8}, "encoding": {"x": {"field": "i", "type": "quantitative"}, "y": {"field": "wlo", "type": "quantitative"}, "y2": {"field": "whi"}}},
  {"data": {"name": "boxes"}, "transform": [{"filter": "datum.p == 'j'"}, {"fold": ["wlo", "whi"], "as": ["k", "v"]}], "mark": {"type": "tick", "orient": "horizontal", "size": 10, "thickness": 0.8, "color": "#909090", "opacity": 1}, "encoding": {"x": {"field": "i", "type": "quantitative"}, "y": {"field": "v", "type": "quantitative"}}},
  {"data": {"name": "outliers"}, "transform": [{"filter": "datum.p == 'j'"}], "mark": {"type": "circle", "size": 3, "color": "#909090", "opacity": 1}, "encoding": {"x": {"field": "i", "type": "quantitative"}, "y": {"field": "v", "type": "quantitative"}}},
  {"data": {"name": "boxes"}, "transform": [{"filter": "datum.p == 'j'"}, {"fold": ["q1", "nlo", "med", "nhi", "q3"], "as": ["k", "v"]}, {"calculate": "datum.i - (datum.k == 'med' ? 0.0625 : 0.125)", "as": "xl"}, {"calculate": "datum.i + (datum.k == 'med' ? 0.0625 : 0.125)", "as": "xr"}], "mark": {"type": "area", "orient": "horizontal", "stroke": "#555555", "strokeWidth": 0.5, "opacity": 1},
   "encoding": {
    "y": {"field": "v", "type": "quantitative", "scale": {"domain": [1, 7], "range": [121, 6], "nice": false, "zero": false}, "axis": {"values": [1, 2, 3, 4, 5, 6, 7], "tickCount": 50, "format": "d", "labelOverlap": false, "title": "j", "titleX": -7, "titleY": -8}},
    "x": {"field": "xl", "type": "quantitative", "stack": null, "scale": {"domain": [1, 2], "range": [48, 128], "nice": false, "zero": false}, "axis": {"values": [1, 2], "tickCount": 10, "labelOverlap": false, "labelExpr": "datum.value == 1 ? 'A' : 'G'", "title": "Solyc01g068280.3.1"}},
    "x2": {"field": "xr"},
    "fill": {"field": "i", "type": "nominal", "scale": {"domain": [1, 2], "range": ["#ff0000", "#00ff00"]}, "legend": null}}},
  {"data": {"name": "boxes"}, "transform": [{"filter": "datum.p == 'j'"}], "mark": {"type": "tick", "orient": "horizontal", "size": 10, "thickness": 1, "color": "#1a1a1a", "opacity": 1}, "encoding": {"x": {"field": "i", "type": "quantitative"}, "y": {"field": "med", "type": "quantitative"}}},
  {"data": {"name": "stats"}, "transform": [{"filter": "datum.p == 'j'"}], "mark": {"type": "text", "font": "Lato", "fontSize": 10, "fontStyle": "italic", "align": "right", "baseline": "middle", "dx": -17}, "encoding": {"x": {"datum": 1.575}, "y": {"datum": 6.84}, "text": {"value": "P"}}},
  {"data": {"name": "stats"}, "transform": [{"filter": "datum.p == 'j'"}], "mark": {"type": "text", "font": "Lato", "fontSize": 10, "align": "left", "baseline": "middle", "dx": -14}, "encoding": {"x": {"datum": 1.575}, "y": {"datum": 6.84}, "text": {"field": "pv"}}},
  {"data": {"name": "stats"}, "transform": [{"filter": "datum.p == 'j'"}], "mark": {"type": "text", "font": "Lato", "fontSize": 10, "align": "center", "baseline": "middle"}, "encoding": {"x": {"datum": 1.575}, "y": {"datum": 6.21}, "text": {"field": "r2"}}}
 ]
},
{
 "width": 194, "height": 124,
 "title": {"text": "Soluble Solids", "dx": 8, "dy": 17.5},
 "layer": [
  {"data": {"name": "boxes"}, "transform": [{"filter": "datum.p == 'k'"}], "mark": {"type": "rule", "color": "#a0a0a0", "strokeDash": [2, 1.5], "strokeWidth": 0.8}, "encoding": {"x": {"field": "i", "type": "quantitative"}, "y": {"field": "wlo", "type": "quantitative"}, "y2": {"field": "whi"}}},
  {"data": {"name": "boxes"}, "transform": [{"filter": "datum.p == 'k'"}, {"fold": ["wlo", "whi"], "as": ["k", "v"]}], "mark": {"type": "tick", "orient": "horizontal", "size": 10, "thickness": 0.8, "color": "#909090", "opacity": 1}, "encoding": {"x": {"field": "i", "type": "quantitative"}, "y": {"field": "v", "type": "quantitative"}}},
  {"data": {"name": "outliers"}, "transform": [{"filter": "datum.p == 'k'"}], "mark": {"type": "circle", "size": 3, "color": "#909090", "opacity": 1}, "encoding": {"x": {"field": "i", "type": "quantitative"}, "y": {"field": "v", "type": "quantitative"}}},
  {"data": {"name": "boxes"}, "transform": [{"filter": "datum.p == 'k'"}, {"fold": ["q1", "nlo", "med", "nhi", "q3"], "as": ["k", "v"]}, {"calculate": "datum.i - (datum.k == 'med' ? 0.0625 : 0.125)", "as": "xl"}, {"calculate": "datum.i + (datum.k == 'med' ? 0.0625 : 0.125)", "as": "xr"}], "mark": {"type": "area", "orient": "horizontal", "stroke": "#555555", "strokeWidth": 0.5, "opacity": 1},
   "encoding": {
    "y": {"field": "v", "type": "quantitative", "scale": {"domain": [3, 10], "range": [119, 4], "nice": false, "zero": false}, "axis": {"values": [3, 4, 5, 6, 7, 8, 9, 10], "tickCount": 50, "format": "d", "labelOverlap": false, "offset": -11, "title": "k", "titleX": -4, "titleY": -7}},
    "x": {"field": "xl", "type": "quantitative", "stack": null, "scale": {"domain": [1, 2], "range": [62.5, 148], "nice": false, "zero": false}, "axis": {"values": [1, 2], "tickCount": 10, "labelOverlap": false, "labelExpr": "datum.value == 1 ? 'A' : 'T'", "title": "Solyc02g081820.3.1"}},
    "x2": {"field": "xr"},
    "fill": {"field": "i", "type": "nominal", "scale": {"domain": [1, 2], "range": ["#ff0000", "#00ff00"]}, "legend": null}}},
  {"data": {"name": "boxes"}, "transform": [{"filter": "datum.p == 'k'"}], "mark": {"type": "tick", "orient": "horizontal", "size": 10, "thickness": 1, "color": "#1a1a1a", "opacity": 1}, "encoding": {"x": {"field": "i", "type": "quantitative"}, "y": {"field": "med", "type": "quantitative"}}},
  {"data": {"name": "stats"}, "transform": [{"filter": "datum.p == 'k'"}], "mark": {"type": "text", "font": "Lato", "fontSize": 10, "fontStyle": "italic", "align": "right", "baseline": "middle", "dx": -17}, "encoding": {"x": {"datum": 1.462}, "y": {"datum": 9.7}, "text": {"value": "P"}}},
  {"data": {"name": "stats"}, "transform": [{"filter": "datum.p == 'k'"}], "mark": {"type": "text", "font": "Lato", "fontSize": 10, "align": "left", "baseline": "middle", "dx": -14}, "encoding": {"x": {"datum": 1.462}, "y": {"datum": 9.7}, "text": {"field": "pv"}}},
  {"data": {"name": "stats"}, "transform": [{"filter": "datum.p == 'k'"}], "mark": {"type": "text", "font": "Lato", "fontSize": 10, "align": "center", "baseline": "middle"}, "encoding": {"x": {"datum": 1.462}, "y": {"datum": 8.92}, "text": {"field": "r2"}}}
 ]
},
{
 "width": 176, "height": 124,
 "title": {"text": "Growth Habit", "dx": 36, "dy": 20.5},
 "layer": [
  {"data": {"name": "boxes"}, "transform": [{"filter": "datum.p == 'l'"}], "mark": {"type": "rule", "color": "#a0a0a0", "strokeDash": [2, 1.5], "strokeWidth": 0.8}, "encoding": {"x": {"field": "i", "type": "quantitative"}, "y": {"field": "wlo", "type": "quantitative"}, "y2": {"field": "whi"}}},
  {"data": {"name": "boxes"}, "transform": [{"filter": "datum.p == 'l'"}, {"fold": ["wlo", "whi"], "as": ["k", "v"]}], "mark": {"type": "tick", "orient": "horizontal", "size": 10, "thickness": 0.8, "color": "#909090", "opacity": 1}, "encoding": {"x": {"field": "i", "type": "quantitative"}, "y": {"field": "v", "type": "quantitative"}}},
  {"data": {"name": "outliers"}, "transform": [{"filter": "datum.p == 'l'"}], "mark": {"type": "circle", "size": 3, "color": "#909090", "opacity": 1}, "encoding": {"x": {"field": "i", "type": "quantitative"}, "y": {"field": "v", "type": "quantitative"}}},
  {"data": {"name": "boxes"}, "transform": [{"filter": "datum.p == 'l'"}, {"fold": ["q1", "nlo", "med", "nhi", "q3"], "as": ["k", "v"]}, {"calculate": "datum.i - (datum.k == 'med' ? 0.0625 : 0.125)", "as": "xl"}, {"calculate": "datum.i + (datum.k == 'med' ? 0.0625 : 0.125)", "as": "xr"}], "mark": {"type": "area", "orient": "horizontal", "stroke": "#555555", "strokeWidth": 0.5, "opacity": 1},
   "encoding": {
    "y": {"field": "v", "type": "quantitative", "scale": {"domain": [1, 3], "range": [119, 6], "nice": false, "zero": false}, "axis": {"values": [1, 1.5, 2, 2.5, 3], "tickCount": 50, "format": ".1f", "labelOverlap": false, "offset": -37, "title": "l", "titleX": -6, "titleY": -7}},
    "x": {"field": "xl", "type": "quantitative", "stack": null, "scale": {"domain": [1, 2], "range": [84, 165], "nice": false, "zero": false}, "axis": {"values": [1, 2], "tickCount": 10, "labelOverlap": false, "labelExpr": "datum.value == 1 ? 'C' : 'T'", "title": "Solyc08g061750.1.1"}},
    "x2": {"field": "xr"},
    "fill": {"field": "i", "type": "nominal", "scale": {"domain": [1, 2], "range": ["#ff0000", "#00ff00"]}, "legend": null}}},
  {"data": {"name": "boxes"}, "transform": [{"filter": "datum.p == 'l'"}], "mark": {"type": "tick", "orient": "horizontal", "size": 10, "thickness": 1, "color": "#1a1a1a", "opacity": 1}, "encoding": {"x": {"field": "i", "type": "quantitative"}, "y": {"field": "med", "type": "quantitative"}}},
  {"data": {"name": "stats"}, "transform": [{"filter": "datum.p == 'l'"}], "mark": {"type": "text", "font": "Lato", "fontSize": 10, "fontStyle": "italic", "align": "right", "baseline": "middle", "dx": -17}, "encoding": {"x": {"datum": 1.52}, "y": {"datum": 2.82}, "text": {"value": "P"}}},
  {"data": {"name": "stats"}, "transform": [{"filter": "datum.p == 'l'"}], "mark": {"type": "text", "font": "Lato", "fontSize": 10, "align": "left", "baseline": "middle", "dx": -14}, "encoding": {"x": {"datum": 1.52}, "y": {"datum": 2.82}, "text": {"field": "pv"}}},
  {"data": {"name": "stats"}, "transform": [{"filter": "datum.p == 'l'"}], "mark": {"type": "text", "font": "Lato", "fontSize": 10, "align": "center", "baseline": "middle"}, "encoding": {"x": {"datum": 1.52}, "y": {"datum": 2.59}, "text": {"field": "r2"}}}
 ]
}
]
}
